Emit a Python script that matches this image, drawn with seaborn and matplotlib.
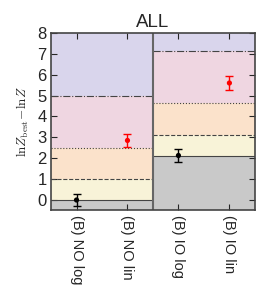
import numpy as np
import pandas as pd
import matplotlib
matplotlib.use("Agg")
import matplotlib.pyplot as plt
import seaborn as sns

# data
models = ["(B) NO log", "(B) NO lin", "(B) IO log", "(B) IO lin"]
dlnz = [0.0, 2.85, 2.13, 5.6]
dlnz_err = [0.3, 0.33, 0.3, 0.32]
point_colors = ["black", "red", "black", "red"]

# Jeffreys-scale thresholds relative to the best model of each ordering
ordering_base = [0.0, 2.13]
thresholds = [1.0, 2.5, 5.0]
band_colors = ["#c9c9c9", "#f8f3d8", "#fbe2cb", "#efd6e1", "#d9d5ec"]
line_styles = ["-", "--", ":", "-."]

sns.set_style("ticks")
plt.rcParams["font.family"] = ["Liberation Sans", "DejaVu Sans"]
plt.rcParams["mathtext.fontset"] = "cm"

fig = plt.figure(figsize=(2.70, 2.96), dpi=100)
ax = fig.add_axes([0.189, 0.289, 0.755, 0.600])

ymin, ymax = -0.5, 8.0
for k, base in enumerate(ordering_base):
    x0, x1 = -0.5 + 2 * k, 1.5 + 2 * k
    edges = [ymin, base] + [base + t for t in thresholds] + [ymax]
    for j in range(len(band_colors)):
        ax.fill_between([x0, x1], edges[j], edges[j + 1],
                        color=band_colors[j], lw=0, zorder=0)
    for j, ls in enumerate(line_styles):
        ax.plot([x0, x1], [edges[j + 1]] * 2, color="#444444",
                ls=ls, lw=0.8, zorder=1)

ax.axvline(1.5, color="#666666", lw=1.5, zorder=2)

df = pd.DataFrame({"x": np.arange(len(models)), "y": dlnz})
for i in range(len(models)):
    ax.errorbar(df.x[i], df.y[i], yerr=dlnz_err[i], fmt="none",
                ecolor=point_colors[i], elinewidth=1, capsize=3, zorder=3)
sns.scatterplot(data=df, x="x", y="y", hue=df.index.astype(str),
                palette=point_colors, s=14, edgecolor="none",
                legend=False, ax=ax, zorder=4)

ax.set_xlim(-0.5, 3.5)
ax.set_ylim(ymin, ymax)
ax.set_xticks(range(len(models)))
ax.set_xticklabels(models, rotation=-90, fontsize=10.5)
ax.set_yticks(range(0, 9))
ax.tick_params(axis="y", labelsize=12, direction="in", right=True, length=4, pad=3)
ax.tick_params(axis="x", direction="in", top=True, length=4, pad=3)
ax.set_xlabel("")
ax.set_ylabel(r"$\ln\!Z_{\rm best}\!-\!\ln\!Z$", fontsize=9.5, labelpad=5)
ax.set_title("ALL", fontsize=13.5, pad=4)
for s in ax.spines.values():
    s.set_color("#444444")
    s.set_linewidth(1.2)

fig.savefig("out.png", dpi=100)
